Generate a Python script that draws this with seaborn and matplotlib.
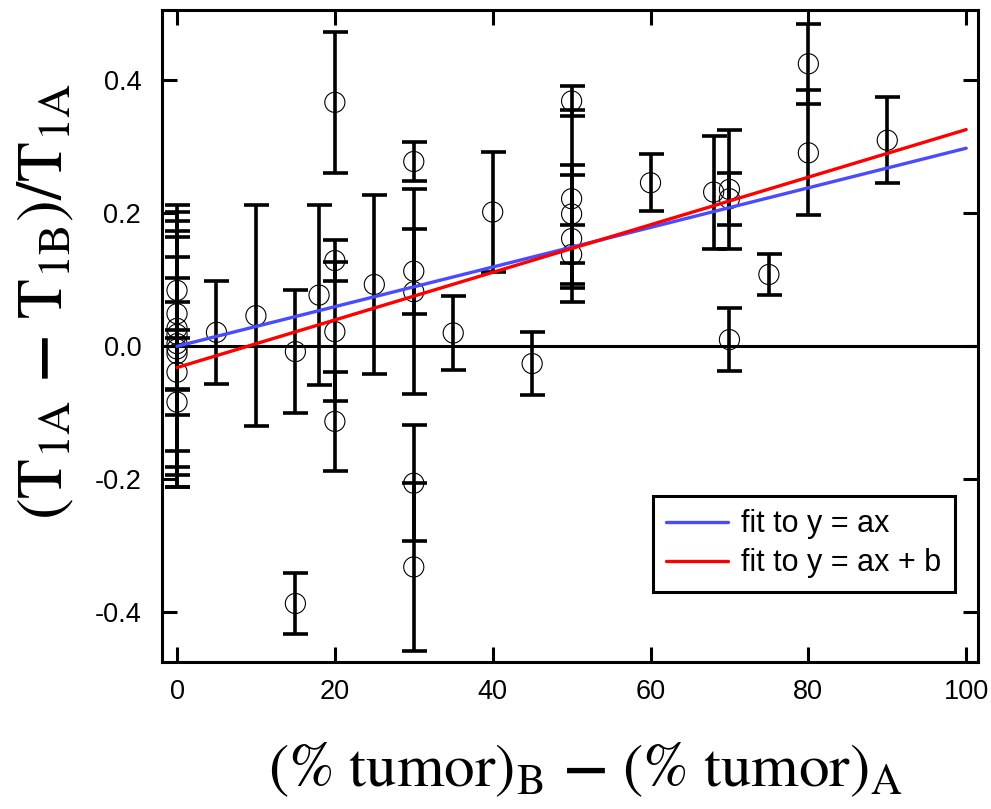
import numpy as np
import pandas as pd
import matplotlib
matplotlib.use("Agg")
import matplotlib.pyplot as plt
import seaborn as sns

## difference in tumor percentage between the two samples (x)
tumor_diff = [0, 0, 0, 0, 0, 0, 0, 0, 0,
              5, 10, 15, 15, 18,
              20, 20, 20, 20, 25,
              30, 30, 30, 30, 30,
              35, 40, 45,
              50, 50, 50, 50, 50,
              60, 68, 70, 70, 70, 75, 80, 80, 90]
## relative T1 change (y) and its error bar half-width
t1_change = [0.084, 0.049, 0.027, 0.018, 0.004, -0.004, -0.011, -0.039, -0.084,
             0.021, 0.046, -0.008, -0.387, 0.077,
             0.367, 0.129, 0.022, -0.113, 0.093,
             0.278, 0.113, 0.082, -0.206, -0.332,
             0.020, 0.202, -0.026,
             0.369, 0.222, 0.199, 0.162, 0.138,
             0.246, 0.232, 0.236, 0.222, 0.010, 0.108, 0.425, 0.291, 0.310]
t1_err = [0.018, 0.115, 0.185, 0.006, 0.198, 0.178, 0.200, 0.173, 0.020,
          0.077, 0.166, 0.092, 0.046, 0.136,
          0.106, 0.031, 0.105, 0.075, 0.134,
          0.030, 0.064, 0.154, 0.087, 0.127,
          0.055, 0.090, 0.047,
          0.023, 0.134, 0.074, 0.095, 0.044,
          0.043, 0.085, 0.090, 0.039, 0.047, 0.031, 0.060, 0.094, 0.065]

## fitted parameters
slope_origin = 0.00298          # y = ax
slope_free, intercept_free = 0.00358, -0.032   # y = ax + b
fit_range = [0, 100]

df = pd.DataFrame({"x": tumor_diff, "y": t1_change, "err": t1_err})
x_fit = np.array(fit_range, dtype=float)

sns.set_style("ticks")
plt.rcParams["font.family"] = ["Liberation Sans", "DejaVu Sans"]
plt.rcParams["mathtext.fontset"] = "stix"
plt.rcParams["text.color"] = "black"
plt.rcParams["xtick.color"] = "black"
plt.rcParams["ytick.color"] = "black"
plt.rcParams["axes.labelcolor"] = "black"

fig = plt.figure(figsize=(9.91, 8.09), dpi=100)
ax = fig.add_axes([0.1635, 0.1817, 0.8234, 0.806])

ax.axhline(0, color="black", lw=2.2, zorder=1)
ax.errorbar(df["x"], df["y"], yerr=df["err"], fmt="none", ecolor="black",
            elinewidth=2.6, capsize=9, capthick=2.6, zorder=2)
sns.scatterplot(data=df, x="x", y="y", ax=ax, marker="o", s=210,
                facecolor="none", edgecolor="black", linewidth=0.8,
                zorder=3, legend=False)

sns.lineplot(x=x_fit, y=slope_origin * x_fit, ax=ax, color="#4a4aff",
             lw=2.4, label="fit to y = ax", zorder=4)
sns.lineplot(x=x_fit, y=slope_free * x_fit + intercept_free, ax=ax,
             color="#ff0000", lw=2.4, label="fit to y = ax + b", zorder=4)

ax.set_xlim(-1.9, 101.5)
ax.set_ylim(-0.475, 0.506)
ax.set_xticks([0, 20, 40, 60, 80, 100])
ax.set_yticks([-0.4, -0.2, 0.0, 0.2, 0.4])
ax.set_yticklabels(["-0.4", "-0.2", "0.0", "0.2", "0.4"])
ax.tick_params(direction="in", length=11, width=2.2, top=True, right=True,
               labelsize=19.5, color="black", labelcolor="black")
ax.tick_params(axis="x", pad=12)
ax.tick_params(axis="y", pad=15)
for sp in ax.spines.values():
    sp.set_linewidth(2.2)
    sp.set_color("black")
ax.set_xlabel("")
ax.set_ylabel("")

leg = ax.legend(loc="lower right", bbox_to_anchor=(0.972, 0.107),
                borderaxespad=0, frameon=True, fancybox=False,
                edgecolor="black", framealpha=1, fontsize=22,
                handlelength=2.0, handletextpad=0.45, labelspacing=0.3,
                borderpad=0.45)
leg.get_frame().set_linewidth(2.2)
for t in leg.get_texts():
    t.set_color("black")

fig.text(0.046, 0.627,
         r"$(\mathrm{T}_{\mathrm{1A}}\ \mathbf{-}\ \mathrm{T}_{\mathrm{1B}})/\mathrm{T}_{\mathrm{1A}}$",
         rotation=90, ha="center", va="center", fontsize=47, color="black")
fig.text(0.591, 0.048,
         r"$(\%\ \mathrm{tumor})_{\mathrm{B}}\ \mathbf{-}\ (\%\ \mathrm{tumor})_{\mathrm{A}}$",
         ha="center", va="center", fontsize=44, color="black")

fig.savefig("out.png", dpi=100)
